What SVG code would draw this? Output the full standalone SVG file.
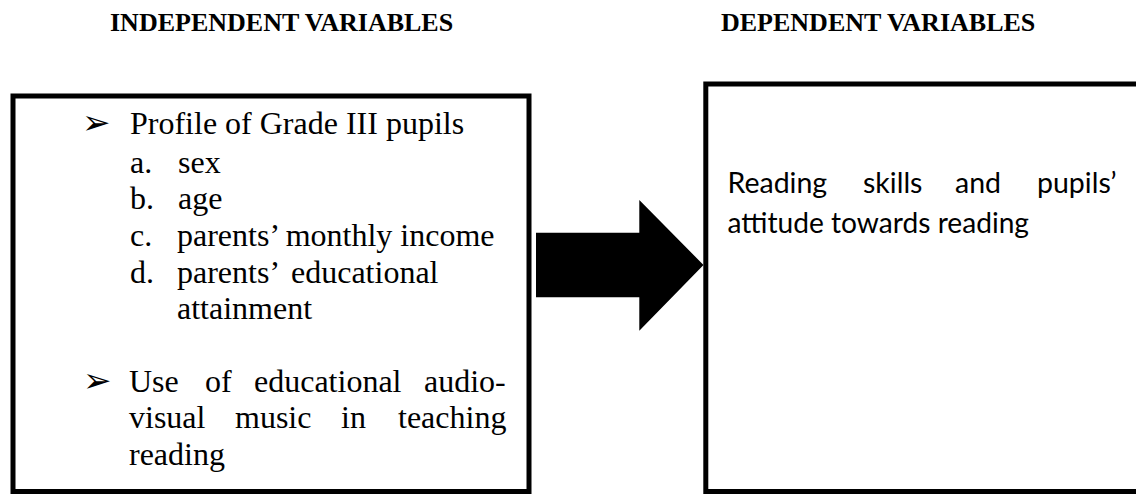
<svg xmlns="http://www.w3.org/2000/svg" width="1136" height="494" viewBox="0 0 1136 494">
<style>
.hdr{font-family:"Liberation Serif","Times New Roman",serif;font-weight:bold;font-size:26px;fill:#000}
.box{fill:#fff;stroke:#000;stroke-width:5}
.ser{font-family:"Liberation Serif","Times New Roman",serif;font-size:32px;fill:#000}
.bul{font-family:"DejaVu Sans",sans-serif;font-size:34px;fill:#000}
.san{font-family:Lato,"Liberation Sans",sans-serif;font-size:28.5px;fill:#000}
</style>
<rect width="1136" height="494" fill="#fff"/>
<g id="headers">
<text class="hdr" x="110" y="31">INDEPENDENT VARIABLES</text>
<text class="hdr" x="721" y="31">DEPENDENT VARIABLES</text>
</g>
<g id="independent">
<rect class="box" x="13" y="96" width="516" height="395.5"/>
<text class="bul" x="82" y="134">➢</text>
<text class="ser" x="130" y="134">Profile of Grade III pupils</text>
<text class="ser" y="173"><tspan x="130">a.</tspan><tspan x="178">sex</tspan></text>
<text class="ser" y="209"><tspan x="130">b.</tspan><tspan x="178">age</tspan></text>
<text class="ser" y="246"><tspan x="130">c.</tspan><tspan x="177">parents’ monthly income</tspan></text>
<text class="ser" y="283"><tspan x="130">d.</tspan><tspan x="177">parents’</tspan><tspan x="291">educational</tspan></text>
<text class="ser" x="177" y="319">attainment</text>
<text class="bul" x="83" y="392">➢</text>
<text class="ser" y="392"><tspan x="129">Use</tspan><tspan x="205">of</tspan><tspan x="254">educational</tspan><tspan x="424">audio-</tspan></text>
<text class="ser" y="428"><tspan x="129">visual</tspan><tspan x="235">music</tspan><tspan x="341">in</tspan><tspan x="398">teaching</tspan></text>
<text class="ser" x="129" y="465">reading</text>
</g>
<g id="dependent">
<path class="box" d="M1140,84 H705.8 V491.6 H1140"/>
<text class="san" y="193"><tspan x="727.5">Reading</tspan><tspan x="863">skills</tspan><tspan x="955">and</tspan><tspan x="1037">pupils’</tspan></text>
<text class="san" x="727.5" y="233" textLength="301.5" lengthAdjust="spacingAndGlyphs">attitude towards reading</text>
</g>
<g id="connectors">
<path d="M536,232.7 H639.3 V200 L703.5,265 L639.3,330.7 V297.3 H536 Z" fill="#000"/>
</g>
</svg>
